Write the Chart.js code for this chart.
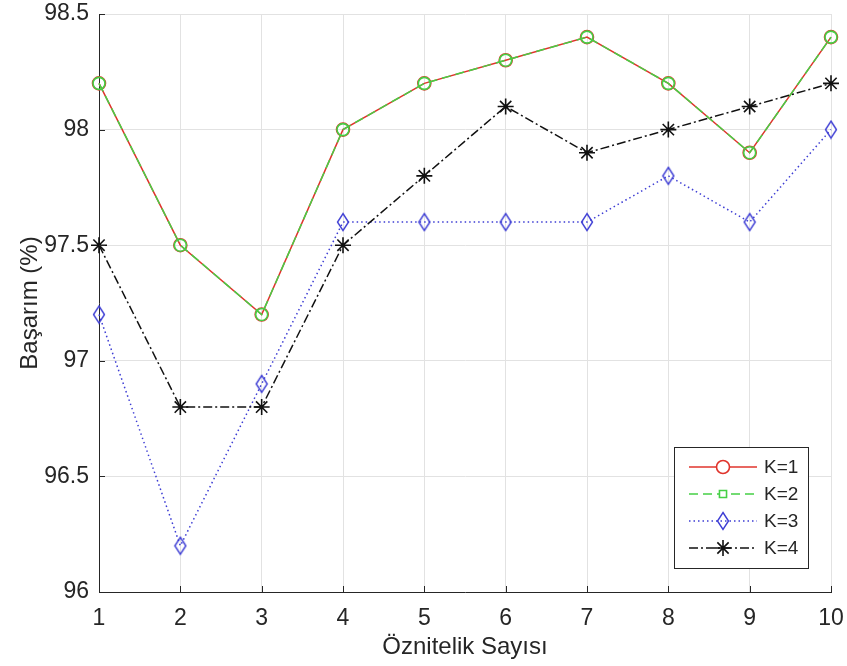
<!DOCTYPE html>
<html>
<head>
<meta charset="utf-8">
<script src="https://cdn.jsdelivr.net/npm/chart.js@4.4.1/dist/chart.umd.min.js"></script>
<style>
  html, body { margin: 0; padding: 0; background: #fff; }
  #wrap { width: 847px; height: 666px; }
</style>
</head>
<body>
<div id="wrap"><canvas id="acc"></canvas></div>
<script>
    // feature counts and accuracy per K
    const featureCounts = ['1', '2', '3', '4', '5', '6', '7', '8', '9', '10'];
    const k1 = [98.2, 97.5, 97.2, 98.0, 98.2, 98.3, 98.4, 98.2, 97.9, 98.4];
    const k2 = [98.2, 97.5, 97.2, 98.0, 98.2, 98.3, 98.4, 98.2, 97.9, 98.4];
    const k3 = [97.2, 96.2, 96.9, 97.6, 97.6, 97.6, 97.6, 97.8, 97.6, 98.0];
    const k4 = [97.5, 96.8, 96.8, 97.5, 97.8, 98.1, 97.9, 98.0, 98.1, 98.2];
    const yTicks = [96, 96.5, 97, 97.5, 98, 98.5];

    const FONT = '"Liberation Sans", Arial, sans-serif';
    const AXIS = '#262626';
    const RED = '#e0342c', GREEN = '#45d045', BLUE = '#3d3dd4', BLACK = '#111111';

    // tall diamond marker (MATLAB style)
    function diamond(color){
        const c = document.createElement('canvas');
        c.width = 14; c.height = 20;
        const g = c.getContext('2d');
        g.strokeStyle = color;
        g.lineWidth = 1.4;
        g.beginPath();
        g.moveTo(7, 1.5); g.lineTo(12.5, 10); g.lineTo(7, 18.5); g.lineTo(1.5, 10);
        g.closePath();
        g.stroke();
        return c;
    }
    const diamondMark = diamond(BLUE);

    // order: higher is drawn first, so K=1 sits under K=2
    const series = [
        {label: 'K=1', data: k1, color: RED, dash: [], style: 'circle', r: 6.5, legendStyle: 'circle', order: 4},
        {label: 'K=2', data: k2, color: GREEN, dash: [9, 5], style: 'circle', r: 6, legendStyle: 'rect', order: 3},
        {label: 'K=3', data: k3, color: BLUE, dash: [1.5, 3], style: diamondMark, r: 8, legendStyle: diamondMark, order: 2},
        {label: 'K=4', data: k4, color: BLACK, dash: [9, 3, 2, 3], style: 'star', r: 8, legendStyle: 'star', order: 1}
    ];

    const datasets = series.map(s => ({
        label: s.label,
        data: s.data,
        order: s.order,
        borderColor: s.color,
        backgroundColor: 'transparent',
        borderWidth: 1.5,
        borderDash: s.dash,
        pointStyle: s.style,
        pointRadius: s.r,
        pointHoverRadius: s.r,
        pointBorderColor: s.color,
        pointBorderWidth: 1.6,
        pointBackgroundColor: 'transparent',
        tension: 0,
        clip: false
    }));

    // inward tick marks on the left and bottom axes
    const innerTicks = {
        id: 'innerTicks',
        afterDatasetsDraw(chart){
            const {ctx, chartArea: a, scales: {x, y}} = chart;
            ctx.save();
            ctx.strokeStyle = AXIS;
            ctx.lineWidth = 1;
            ctx.beginPath();
            x.ticks.forEach((t, i) => {
                const px = Math.round(x.getPixelForTick(i)) + 0.5;
                ctx.moveTo(px, a.bottom); ctx.lineTo(px, a.bottom - 6);
            });
            y.ticks.forEach((t, i) => {
                const py = Math.round(y.getPixelForTick(i)) + 0.5;
                ctx.moveTo(a.left, py); ctx.lineTo(a.left + 6, py);
            });
            ctx.stroke();
            ctx.restore();
        }
    };

    // boxed legend with line sample and marker per series
    const boxLegend = {
        id: 'boxLegend',
        afterDraw(chart){
            const ctx = chart.ctx;
            const bx = 674.5, by = 447.5, bw = 134, bh = 121;
            ctx.save();
            ctx.fillStyle = '#fff';
            ctx.fillRect(bx, by, bw, bh);
            ctx.strokeStyle = AXIS;
            ctx.lineWidth = 1;
            ctx.strokeRect(bx, by, bw, bh);
            series.forEach((s, i) => {
                const cy = 467 + i * 27;
                ctx.strokeStyle = s.color;
                ctx.lineWidth = 1.5;
                ctx.setLineDash(s.dash);
                ctx.beginPath();
                ctx.moveTo(689, cy); ctx.lineTo(757, cy);
                ctx.stroke();
                ctx.setLineDash([]);
                ctx.lineWidth = 1.6;
                ctx.fillStyle = '#fff';
                Chart.helpers.drawPoint(ctx, {
                    pointStyle: s.legendStyle,
                    radius: s.legendStyle === 'rect' ? 5 : s.r,
                    rotation: 0,
                    borderWidth: 1.6
                }, 723, cy);
                ctx.fillStyle = AXIS;
                ctx.font = '19px ' + FONT;
                ctx.textBaseline = 'middle';
                ctx.fillText(s.label, 764, cy + 1);
            });
            ctx.restore();
        }
    };

    new Chart(document.getElementById('acc'), {
        type: 'line',
        data: {labels: featureCounts, datasets: datasets},
        options: {
            responsive: true,
            maintainAspectRatio: false,
            animation: false,
            layout: {padding: {top: 14, right: 16, left: 0, bottom: 0}},
            plugins: {
                legend: {display: false},
                tooltip: {enabled: false}
            },
            scales: {
                x: {
                    offset: false,
                    grid: {color: '#e2e2e2', drawTicks: false},
                    border: {color: AXIS, width: 1},
                    ticks: {
                        color: AXIS, padding: 13, maxRotation: 0,
                        font: {family: FONT, size: 23}
                    },
                    title: {
                        display: true, text: 'Öznitelik Sayısı', color: AXIS,
                        font: {family: FONT, size: 24}, padding: {top: 0, bottom: 4}
                    },
                    afterFit(scale){
                        scale.height = 74;
                        scale.paddingLeft = 0;
                        scale.paddingRight = 0;
                    }
                },
                y: {
                    min: 96, max: 98.5,
                    afterBuildTicks(scale){ scale.ticks = yTicks.map(v => ({value: v})); },
                    grid: {color: '#e2e2e2', drawTicks: false},
                    border: {color: AXIS, width: 1},
                    ticks: {
                        color: AXIS, padding: 10,
                        font: {family: FONT, size: 23},
                        callback: v => String(v)
                    },
                    title: {
                        display: true, text: 'Başarım (%)', color: AXIS,
                        font: {family: FONT, size: 24}, padding: {top: 16, bottom: 0}
                    },
                    afterFit(scale){
                        scale.width = 99;
                        scale.paddingTop = 0;
                        scale.paddingBottom = 0;
                    }
                }
            }
        },
        plugins: [innerTicks, boxLegend]
    });
</script>
</body>
</html>
